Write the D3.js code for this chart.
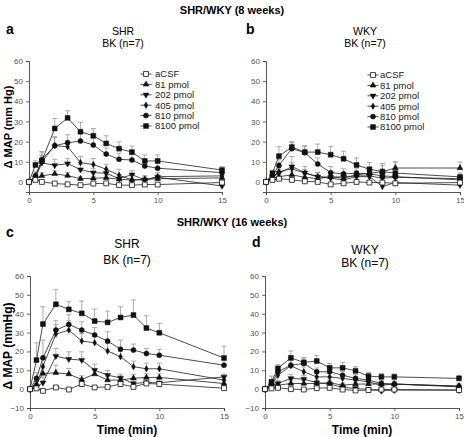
<!DOCTYPE html>
<html><head><meta charset="utf-8">
<script src="https://cdn.jsdelivr.net/npm/d3@7"></script>
<style>
body{margin:0;background:#fff;}
svg{display:block;font-family:"Liberation Sans",Arial,sans-serif;}
</style></head>
<body><svg id="c" width="464" height="437"></svg>
<script>
// ---- data ----
const times = [0, 0.5, 1, 2, 3, 4, 5, 6, 7, 8, 9, 10, 15];
const seriesNames = ["aCSF", "81 pmol", "202 pmol", "405 pmol", "810 pmol", "8100 pmol"];
const xTicks = [0, 5, 10, 15];
const yTicksTop = [0, 10, 20, 30, 40, 50, 60];
const yTicksBottom = [-10, 0, 10, 20, 30, 40, 50, 60];

// panel a : SHR 8 weeks (aCSF, 81, 202, 405, 810, 8100)
const panelA = [
  [0, 1, 0, -0.8, -1.2, -1.6, -0.8, -0.7, -1.6, -1.6, -1.3, -1.3, -0.3],
  [0, 1.5, 3, 4, 3.1, 1.6, 1.8, 2.1, 1.3, 1, 1.3, 1.6, 2],
  [0, 2, 9.5, 8.2, 9.1, 6.1, 4.6, 4.3, 1.6, 3.6, 1, 2.3, -2],
  [0, 3, 10, 18, 17.5, 9.6, 8.6, 6.3, 3.3, 1, 1, 2.6, 3],
  [0, 3, 11, 18, 19.4, 20.3, 18.3, 13.8, 11.2, 10.9, 7.9, 6.8, 4.6],
  [0, 8.4, 10.4, 26.5, 31.8, 24.9, 22.9, 19.1, 16.5, 14.8, 10.4, 10.4, 5.9]
];
const errA = [
  [0, 0.5, 0.8, 0.5, 0.5, 0.5, 0.5, 0.5, 0.5, 0.5, 0.5, 0.5, 0.5],
  [0, 1, 1.5, 1.5, 1.5, 1, 1, 1, 1, 1, 1, 1, 1],
  [0, 1.5, 3, 3, 2.5, 2.5, 2, 2, 2, 2, 2, 1.5, 1],
  [0, 1.5, 3, 4, 3, 3, 3, 2.5, 3, 2.5, 2, 2, 1.5],
  [0, 2, 4, 4.5, 4, 4, 3.5, 3, 3, 3, 2.5, 2.5, 1.5],
  [0, 2, 4.5, 5, 3.5, 4.7, 3.6, 3.8, 3.4, 3, 3, 3, 1.7]
];
// panel b : WKY 8 weeks
const panelB = [
  [0, 1, 1.6, 1, 0.3, 0, -1.2, -0.7, 0, -0.3, -0.3, -0.7, -0.3],
  [0, 1.8, 2.6, 3.5, 2.3, 1.6, 2.6, 1.8, 3.5, 4.3, 5.1, 6.9, 6.9],
  [0, 2.6, 4.3, 7.6, 4.6, 2.6, 2.3, 2.6, 3, 3, 1.8, 2.3, 1.6],
  [0, 2.6, 5.1, 6.5, 4.3, 2.6, 1.8, 1, 2.6, 2.6, -2.3, -0.3, -1.6],
  [0, 3, 8.2, 16.5, 14.5, 8.9, 4.6, 4, 4.3, 4, 3, 2.6, 1],
  [0, 4.3, 12.8, 17.3, 14.8, 14.8, 13.5, 11.5, 8.4, 6.3, 5.1, 4.4, 2.5]
];
const errB = [
  [0, 0.5, 0.5, 0.5, 0.5, 0.5, 0.5, 0.5, 0.5, 0.5, 0.5, 0.5, 0.5],
  [0, 1, 1.5, 1.5, 1.5, 1.5, 1.5, 2, 2, 2.5, 3, 3, 3],
  [0, 1.5, 2, 5, 3, 2, 2, 2, 2, 2, 2, 2, 1.5],
  [0, 1.5, 2, 3, 2, 2, 1.5, 1.5, 2, 2, 2, 2, 1.5],
  [0, 2, 3, 3, 3, 3, 3, 2.5, 2.5, 2.5, 2.5, 2.5, 2],
  [0, 1.5, 4.7, 2.8, 3.2, 4, 4, 3.8, 3.5, 3.3, 4, 5.5, 2]
];
// panel c : SHR 16 weeks
const panelC = [
  [0, 0.4, -0.9, 0.9, -0.2, 2.7, 0.9, 1.2, 2.7, 1.2, 3, 2.7, 0.5],
  [0, 2.7, 8.3, 8.7, 8, 5.1, 8, 4.8, 4.8, 5.8, 6.2, 6.2, 3],
  [0, 1.2, 3.4, 17.5, 15.9, 15.4, 10.1, 7.4, 6, 3, 3.5, 3.4, 6.5],
  [0, 2, 12, 29.2, 31.3, 25.5, 24.6, 20.2, 17.2, 11.9, 10.8, 10.8, 4.8],
  [0, 5.7, 16.6, 31.3, 34.3, 31.3, 28.7, 25.5, 21.2, 20.7, 18.9, 18, 12.7],
  [0, 15.4, 34.5, 45, 42.3, 40.2, 36.1, 35.4, 38, 39.3, 32.4, 29.9, 16.5]
];
const errC = [
  [0, 0.5, 0.5, 0.5, 0.5, 1, 0.5, 0.5, 1, 0.5, 1, 1, 0.5],
  [0, 1.5, 3, 4, 3, 2, 2.5, 2, 2, 2, 2, 2, 1.5],
  [0, 1.5, 3, 4.1, 3.9, 4.4, 3.2, 2.5, 2, 2, 2, 2, 1.5],
  [0, 2, 4, 5, 5, 4, 4, 4, 3, 3, 3, 3, 2],
  [0, 3, 9.4, 5, 5.2, 4.5, 4, 4.9, 4.8, 3.2, 2.7, 3.1, 3],
  [0, 9.2, 9.2, 7.9, 4.1, 6.5, 6.4, 6, 5.7, 8, 6.5, 5, 6.3]
];
// panel d : WKY 16 weeks
const panelD = [
  [0, 0.4, 0.7, 0, -0.2, 0.5, 0.7, -0.2, -0.7, -0.5, -0.2, -0.2, -0.5],
  [0, 1.6, 2.1, 3, 3, 3, 3.4, 2.1, 2.7, 2.7, 2.7, 2.7, 1.6],
  [0, 1.8, 3, 5.7, 5.3, 3.4, 2.7, 0.9, 0.4, -0.2, -0.9, -0.5, -0.5],
  [0, 2.1, 7.4, 12.4, 9.2, 6.5, 6.5, 5.7, 4.8, 3.9, 2.1, 2.7, 1.6],
  [0, 3, 9.2, 12.7, 13.6, 9.2, 9.2, 7.4, 5.7, 4.8, 3, 2.7, 1.2],
  [0, 3.9, 11, 16.6, 14.2, 14.9, 11.3, 11.3, 9.7, 6.9, 6.5, 6.5, 5.7]
];
const errD = [
  [0, 0.5, 0.5, 0.5, 0.5, 0.5, 0.5, 0.5, 0.5, 0.5, 0.5, 0.5, 0.5],
  [0, 1, 1, 1.5, 1.5, 1.5, 1.5, 1, 1, 1, 1, 1, 1],
  [0, 1, 1.5, 2, 2, 1.5, 1.5, 1, 1, 1, 1, 1, 1],
  [0, 1.5, 2, 3, 2.5, 2, 2, 1.5, 1.5, 1.5, 1.5, 1.5, 1.5],
  [0, 2, 2, 3, 2.5, 2, 2, 2, 2, 1.5, 1.5, 1.5, 1],
  [0, 3, 2, 3.6, 2.6, 3, 2.3, 2.9, 2.2, 1.9, 1.8, 1.5, 1.7]
];

// ---- layout ----
const svg = d3.select("#c");
const panels = [
  {vals: panelA, errs: errA, letter: "a", strain: "SHR", x0: 29, x1: 222, yDom: [-5, 60], yR: [192, 61], yTicks: yTicksTop,
   letterXY: [6, 34], subX: 123, subY: [35, 47], subFs: 10.5, ylabel: "\u0394 MAP (mm Hg)", ylabFs: 11, ylabY: 127,
   legend: {mx: 146, tx: 155, y0: 74}, xlabel: null, tickFs: 8},
  {vals: panelB, errs: errB, letter: "b", strain: "WKY", x0: 266, x1: 460, yDom: [-5, 60], yR: [192, 61], yTicks: yTicksTop,
   letterXY: [246, 34], subX: 365, subY: [35, 47], subFs: 10.5, ylabel: null,
   legend: {mx: 373, tx: 380, y0: 75}, xlabel: null, tickFs: 8},
  {vals: panelC, errs: errC, letter: "c", strain: "SHR", x0: 30, x1: 224, yDom: [-10, 60], yR: [408, 276], yTicks: yTicksBottom,
   letterXY: [6, 237], subX: 127, subY: [248, 264], subFs: 12, ylabel: "\u0394 MAP (mmHg)", ylabFs: 12, ylabY: 346,
   legend: null, xlabel: "Time (min)", tickFs: 8},
  {vals: panelD, errs: errD, letter: "d", strain: "WKY", x0: 265, x1: 459, yDom: [-10, 60], yR: [408, 276], yTicks: yTicksBottom,
   letterXY: [252, 247], subX: 365, subY: [254, 267], subFs: 12, ylabel: null,
   legend: null, xlabel: "Time (min)", tickFs: 8}
];

// titles
svg.append("text").attr("x", 232).attr("y", 14).attr("text-anchor", "middle")
  .attr("font-size", 11).attr("font-weight", "bold").text("SHR/WKY (8 weeks)");
svg.append("text").attr("x", 232).attr("y", 226).attr("text-anchor", "middle")
  .attr("font-size", 11).attr("font-weight", "bold").text("SHR/WKY (16 weeks)");

const symbols = [
  {type: d3.symbolSquare, size: 24, fill: "#fff"},
  {type: d3.symbolTriangle, size: 15, fill: "#111", rot: 0},
  {type: d3.symbolTriangle, size: 15, fill: "#111", rot: 180},
  {type: d3.symbolDiamond, size: 12, fill: "#111"},
  {type: d3.symbolCircle, size: 20, fill: "#111"},
  {type: d3.symbolSquare, size: 24, fill: "#111"}
];
function drawSym(g, i, x, y) {
  const s = symbols[i];
  g.append("path").attr("d", d3.symbol().type(s.type).size(s.size)())
    .attr("transform", `translate(${x},${y}) rotate(${s.rot || 0})`)
    .attr("fill", s.fill).attr("stroke", "#111").attr("stroke-width", i === 0 ? 0.8 : 0.5);
}

panels.forEach(p => {
  const x = d3.scaleLinear().domain([0, 15]).range([p.x0, p.x1]);
  const y = d3.scaleLinear().domain(p.yDom).range(p.yR);
  const g = svg.append("g");

  // axes
  const xa = g.append("g").attr("transform", `translate(0,${p.yR[0]})`)
    .call(d3.axisBottom(x).tickValues(xTicks).tickSize(3).tickPadding(2));
  const ya = g.append("g").attr("transform", `translate(${p.x0},0)`)
    .call(d3.axisLeft(y).tickValues(p.yTicks).tickSize(3).tickPadding(3));
  [xa, ya].forEach(a => {
    a.select(".domain").attr("stroke", "#444").attr("stroke-width", 0.9);
    a.selectAll(".tick line").attr("stroke", "#444").attr("stroke-width", 0.8);
    a.selectAll(".tick text").attr("fill", "#555").attr("font-size", p.tickFs)
      .attr("font-family", "Liberation Sans, Arial, sans-serif");
  });

  // error bars
  p.vals.forEach((vals, si) => {
    vals.forEach((v, ti) => {
      const e = p.errs[si][ti];
      if (e <= 0) return;
      const xx = x(times[ti]);
      g.append("line").attr("x1", xx).attr("x2", xx).attr("y1", y(v)).attr("y2", y(v + e))
        .attr("stroke", "#999").attr("stroke-width", 0.8);
      g.append("line").attr("x1", xx - 2.5).attr("x2", xx + 2.5).attr("y1", y(v + e)).attr("y2", y(v + e))
        .attr("stroke", "#999").attr("stroke-width", 0.8);
    });
  });
  // lines
  const line = d3.line().x((d, i) => x(times[i])).y(d => y(d));
  p.vals.forEach((vals) => {
    g.append("path").attr("d", line(vals)).attr("fill", "none")
      .attr("stroke", "#222").attr("stroke-width", 0.8);
  });
  // markers
  for (let si = p.vals.length - 1; si >= 0; si--) {
    p.vals[si].forEach((v, ti) => drawSym(g, si, x(times[ti]), y(v)));
  }

  // letter and subtitles
  svg.append("text").attr("x", p.letterXY[0]).attr("y", p.letterXY[1])
    .attr("font-size", 14).attr("font-weight", "bold").text(p.letter);
  svg.append("text").attr("x", p.subX).attr("y", p.subY[0]).attr("text-anchor", "middle")
    .attr("font-size", p.subFs).text(p.strain);
  svg.append("text").attr("x", p.subX).attr("y", p.subY[1]).attr("text-anchor", "middle")
    .attr("font-size", p.subFs).text("BK (n=7)");

  if (p.ylabel) {
    svg.append("text").attr("transform", `translate(12,${p.ylabY}) rotate(-90)`)
      .attr("text-anchor", "middle").attr("font-size", p.ylabFs).attr("font-weight", "bold")
      .text(p.ylabel);
  }
  if (p.xlabel) {
    svg.append("text").attr("x", (p.x0 + p.x1) / 2).attr("y", 434).attr("text-anchor", "middle")
      .attr("font-size", 12).attr("font-weight", "bold").text(p.xlabel);
  }
  if (p.legend) {
    seriesNames.forEach((name, i) => {
      const ly = p.legend.y0 + i * 10.4;
      svg.append("line").attr("x1", p.legend.mx - 5.5).attr("x2", p.legend.mx + 5.5)
        .attr("y1", ly).attr("y2", ly).attr("stroke", "#222").attr("stroke-width", 0.8);
      drawSym(svg, i, p.legend.mx, ly);
      svg.append("text").attr("x", p.legend.tx).attr("y", ly + 3.3)
        .attr("font-size", 9.5).attr("fill", "#222").text(name);
    });
  }
});
</script></body></html>
